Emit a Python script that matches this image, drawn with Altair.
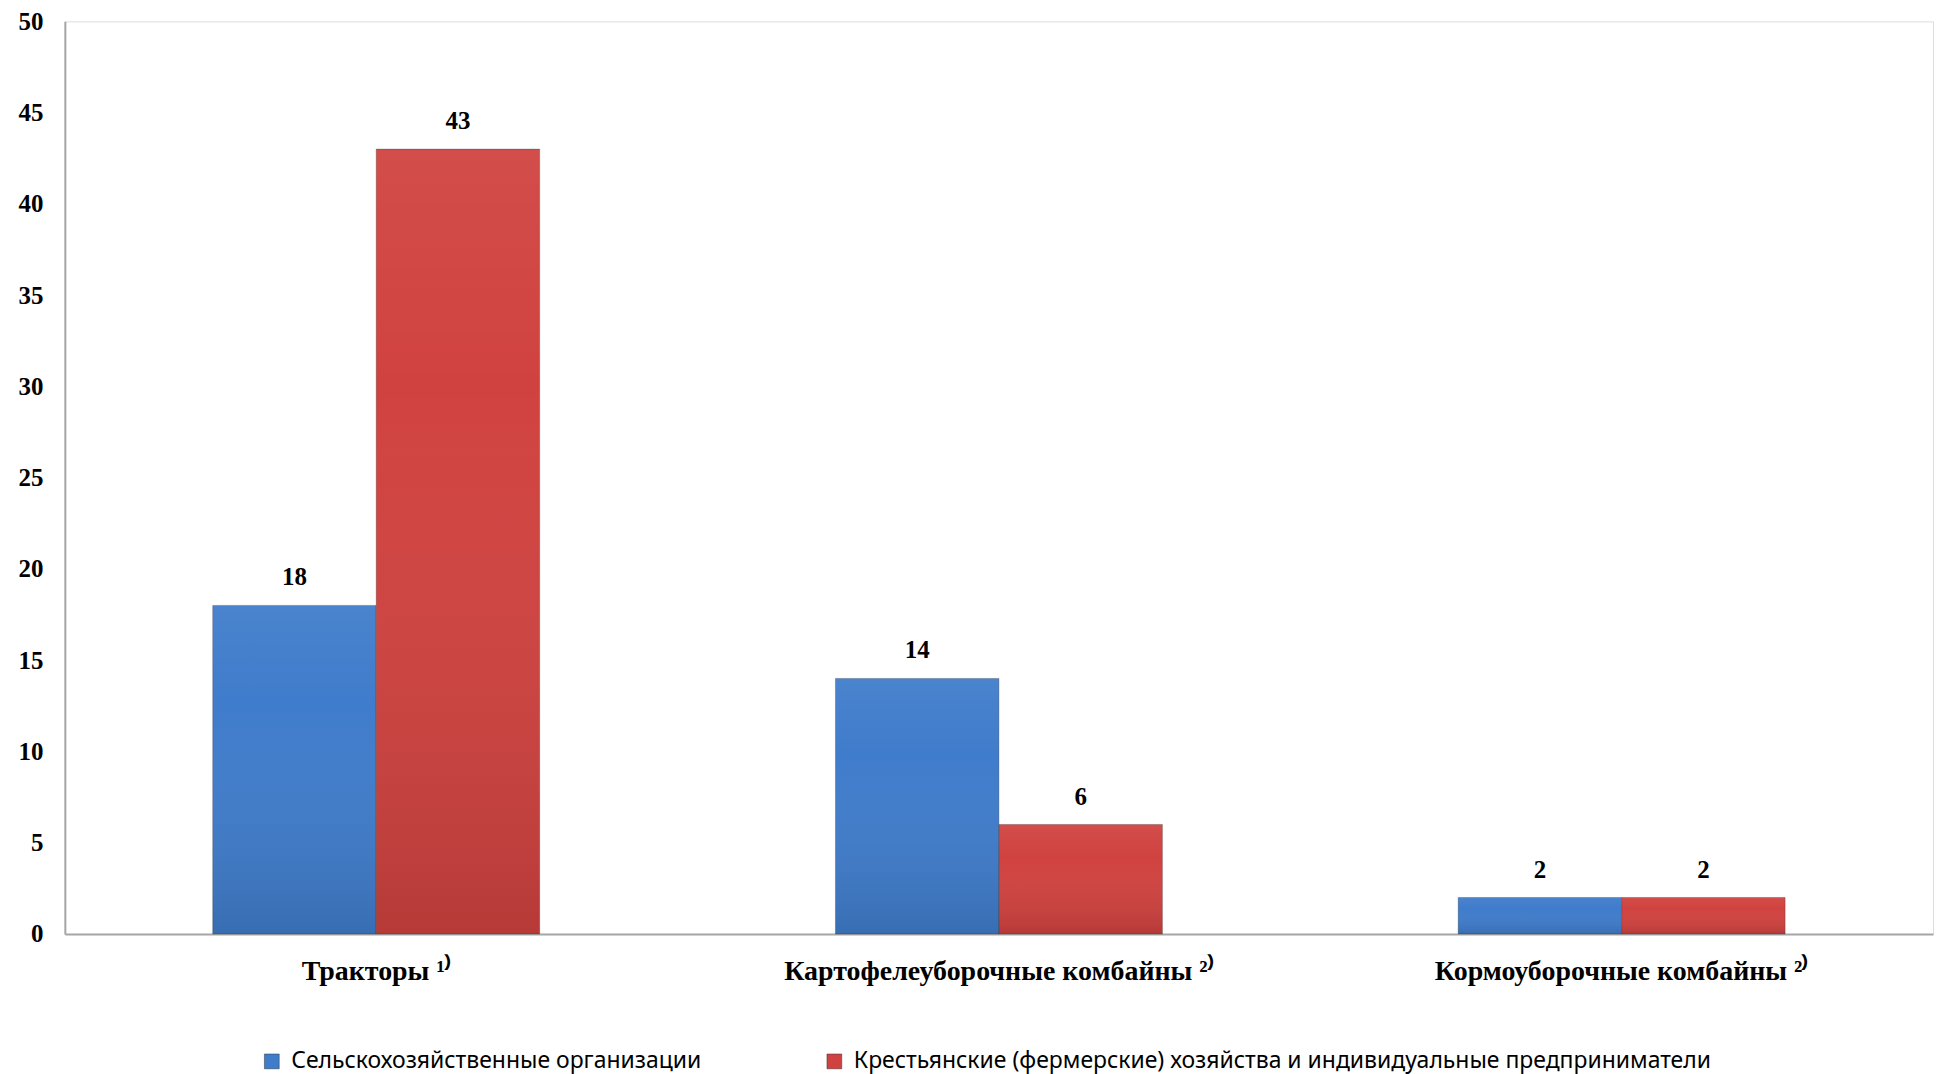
import altair as alt
import pandas as pd

categories = ["Тракторы ¹⁾", "Картофелеуборочные комбайны ²⁾", "Кормоуборочные комбайны ²⁾"]
series = ["Сельскохозяйственные организации",
          "Крестьянские (фермерские) хозяйства и индивидуальные предприниматели"]
org_values = [18, 14, 2]
farm_values = [43, 6, 2]
colors = ["#3f7ccb", "#d0423f"]

rows = []
for c, a, b in zip(categories, org_values, farm_values):
    rows.append({"cat": c, "series": series[0], "value": a})
    rows.append({"cat": c, "series": series[1], "value": b})
df = pd.DataFrame(rows)

x = alt.X("cat:N", sort=categories, title=None,
          scale=alt.Scale(paddingInner=0.475, paddingOuter=0.2375),
          axis=alt.Axis(labelAngle=0, labelFont="Liberation Serif", labelFontWeight="bold",
                        labelFontSize=28, labelColor="black", labelPadding=24,
                        ticks=False, domainColor="#a6a6a6", domainWidth=2, labelLimit=800))
xo = alt.XOffset("series:N", sort=series, scale=alt.Scale(paddingInner=0, paddingOuter=0))
y = alt.Y("value:Q", title=None,
          scale=alt.Scale(domain=[0, 50], nice=False),
          axis=alt.Axis(values=list(range(0, 51, 5)), grid=False, ticks=False,
                        labelFont="Liberation Serif", labelFontWeight="bold", labelFontSize=25,
                        labelColor="black", labelPadding=22, domainColor="#a6a6a6", domainWidth=2))

base = alt.Chart(df)

bars = base.mark_bar(stroke="#2a2a2a", strokeWidth=0.6, strokeOpacity=0.5).encode(
    x=x, xOffset=xo, y=y,
    color=alt.Color("series:N", sort=series,
                    scale=alt.Scale(domain=series, range=colors),
                    legend=alt.Legend(title=None, orient="none", direction="horizontal",
                                      legendX=196, legendY=1031,
                                      labelFont="Noto Sans", labelFontSize=23, labelColor="black",
                                      symbolType="square", symbolSize=220, symbolStrokeWidth=0.5,
                                      symbolStrokeColor="#333333",
                                      labelLimit=1200, columnPadding=121, labelOffset=8)),
)

shade = base.mark_bar(
    color=alt.Gradient(gradient="linear",
                       stops=[alt.GradientStop(color="rgba(255,255,255,0.06)", offset=0),
                              alt.GradientStop(color="rgba(255,255,255,0.0)", offset=0.3),
                              alt.GradientStop(color="rgba(0,0,0,0.12)", offset=1)],
                       x1=0, x2=0, y1=0, y2=1)
).encode(x=x, xOffset=xo, y=y)

labels = base.mark_text(font="Liberation Serif", fontWeight="bold", fontSize=25,
                        color="black", baseline="bottom", dy=-15).encode(
    x=x, xOffset=xo, y=y, text=alt.Text("value:Q"))

chart = alt.layer(bars, shade, labels).properties(
    width=1873, height=915,
    padding={"left": 10, "top": 0, "right": 2, "bottom": 0},
).configure_view(stroke=None).configure(background="white")

chart.save("out.html", embed_options={"renderer": "svg", "actions": False})
